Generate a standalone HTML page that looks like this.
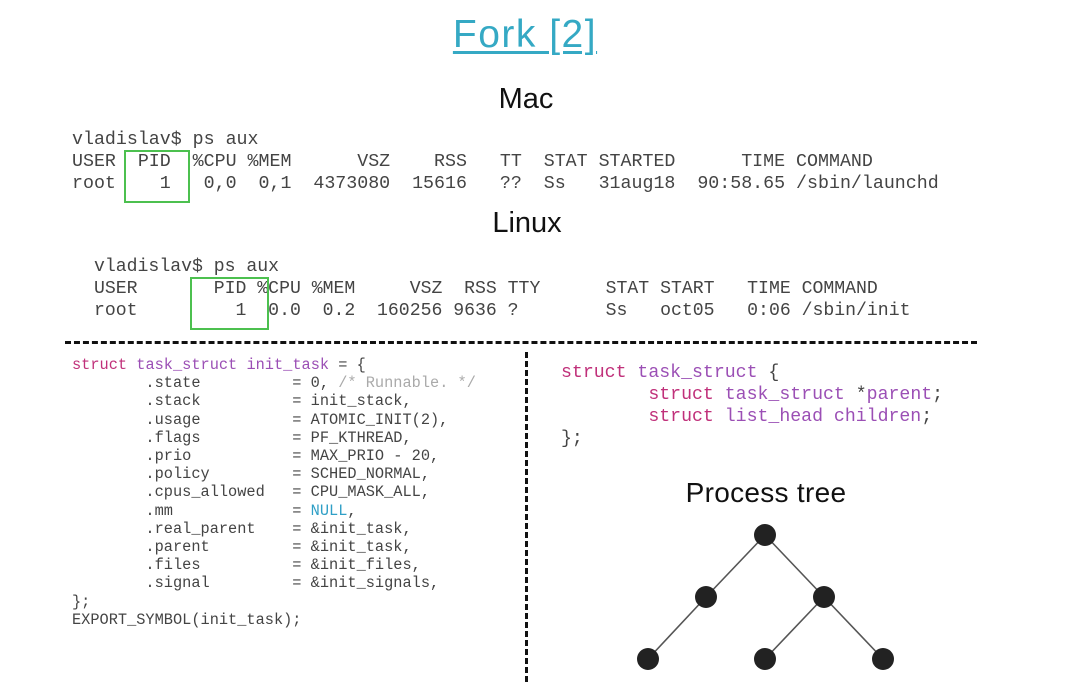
<!DOCTYPE html>
<html><head><meta charset="utf-8"><style>
body{margin:0;width:1075px;height:698px;background:#fff;position:relative;overflow:hidden;font-family:"Liberation Sans",sans-serif}
.t{position:absolute;white-space:nowrap}
pre{position:absolute;margin:0;font-family:"Liberation Mono",monospace;color:#444}
.k{color:#c0307a}.p{color:#9b4fb5}.c{color:#aaa}.n{color:#2f9fc6}
</style></head><body>
<div class="t" style="left:0;width:1050px;text-align:center;top:13px;font-size:39px;letter-spacing:1.5px;color:#35a9c4;text-decoration:underline;text-decoration-thickness:3px;text-underline-offset:4px">Fork [2]</div>
<div class="t" style="left:0;width:1052px;text-align:center;top:83px;font-size:29px;color:#111">Mac</div>
<div class="t" style="left:0;width:1054px;text-align:center;top:207px;font-size:29px;color:#111">Linux</div>
<pre style="left:72px;top:129px;font-size:18.3px;line-height:22px">vladislav$ ps aux
USER  PID  %CPU %MEM      VSZ    RSS   TT  STAT STARTED      TIME COMMAND
root    1   0,0  0,1  4373080  15616   ??  Ss   31aug18  90:58.65 /sbin/launchd</pre>
<div style="position:absolute;left:124px;top:150px;width:62px;height:49px;border:2.5px solid #4cc04f"></div>
<pre style="left:94px;top:256px;font-size:18.15px;line-height:22px">vladislav$ ps aux
USER       PID %CPU %MEM     VSZ  RSS TTY      STAT START   TIME COMMAND
root         1  0.0  0.2  160256 9636 ?        Ss   oct05   0:06 /sbin/init</pre>
<div style="position:absolute;left:190px;top:277px;width:75px;height:49px;border:2.5px solid #4cc04f"></div>
<div style="position:absolute;left:65px;top:341px;width:912px;height:0;border-top:3.5px dashed #111"></div>
<div style="position:absolute;left:525px;top:352px;width:0;height:330px;border-left:3.5px dashed #111"></div>
<pre style="left:72px;top:356px;font-size:15.3px;line-height:18.2px"><span class="k">struct</span> <span class="p">task_struct</span> <span class="p">init_task</span> = {
        .state          = 0, <span class="c">/* Runnable. */</span>
        .stack          = init_stack,
        .usage          = ATOMIC_INIT(2),
        .flags          = PF_KTHREAD,
        .prio           = MAX_PRIO - 20,
        .policy         = SCHED_NORMAL,
        .cpus_allowed   = CPU_MASK_ALL,
        .mm             = <span class="n">NULL</span>,
        .real_parent    = &amp;init_task,
        .parent         = &amp;init_task,
        .files          = &amp;init_files,
        .signal         = &amp;init_signals,
};
EXPORT_SYMBOL(init_task);</pre>
<pre style="left:561px;top:362px;font-size:18.2px;line-height:22px"><span class="k">struct</span> <span class="p">task_struct</span> {
        <span class="k">struct</span> <span class="p">task_struct</span> *<span class="p">parent</span>;
        <span class="k">struct</span> <span class="p">list_head</span> <span class="p">children</span>;
};</pre>
<div class="t" style="left:636px;width:260px;text-align:center;top:477px;font-size:28px;letter-spacing:0.3px;color:#111">Process tree</div>
<svg style="position:absolute;left:0;top:0" width="1075" height="698">
<g stroke="#555" stroke-width="1.6">
<line x1="765" y1="535" x2="706" y2="597"/><line x1="765" y1="535" x2="824" y2="597"/>
<line x1="706" y1="597" x2="648" y2="659"/><line x1="824" y1="597" x2="765" y2="659"/><line x1="824" y1="597" x2="883" y2="659"/>
</g>
<g fill="#222">
<circle cx="765" cy="535" r="11"/><circle cx="706" cy="597" r="11"/><circle cx="824" cy="597" r="11"/>
<circle cx="648" cy="659" r="11"/><circle cx="765" cy="659" r="11"/><circle cx="883" cy="659" r="11"/>
</g></svg>
</body></html>
